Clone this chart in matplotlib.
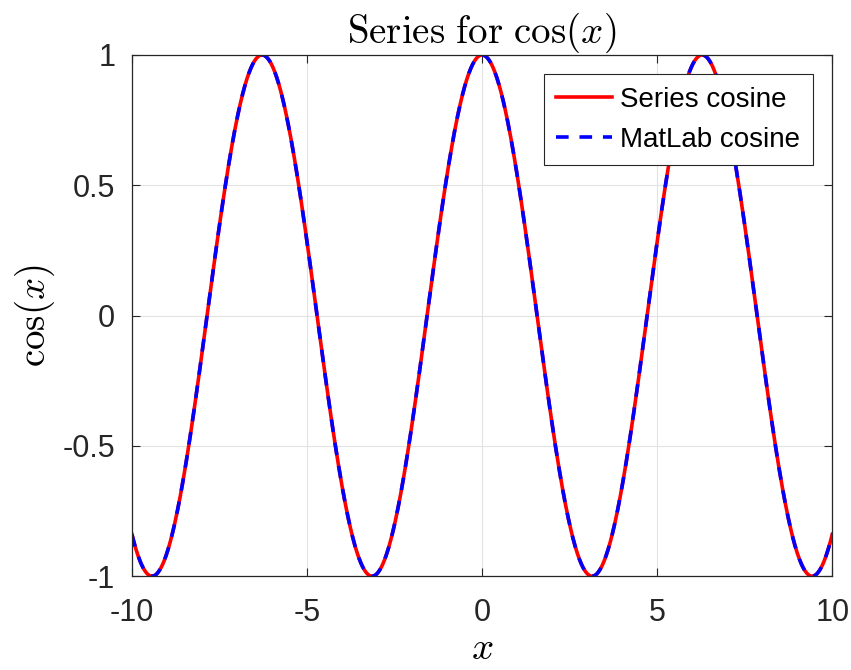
import numpy as np
from math import factorial
from matplotlib import pyplot as plt

# x range and number of series terms
x = np.linspace(-10, 10, 1001)
n_terms = 40
x_ticks = [-10, -5, 0, 5, 10]
y_ticks = [-1, -0.5, 0, 0.5, 1]
y_tick_labels = ['-1', '-0.5', '0', '0.5', '1']
x_tick_labels = ['-10', '-5', '0', '5', '10']

# Taylor series for cos(x)
series_cos = np.zeros_like(x)
for k in range(n_terms):
    series_cos += (-1) ** k * x ** (2 * k) / factorial(2 * k)
matlab_cos = np.cos(x)

plt.rcParams['font.family'] = ['Liberation Sans', 'DejaVu Sans']
plt.rcParams['mathtext.fontset'] = 'cm'

fig = plt.figure(figsize=(8.51, 6.70), dpi=100)
ax = fig.add_axes([0.155, 0.140, 0.823, 0.778])

ax.plot(x, series_cos, color='red', lw=2.6, label='Series cosine')
ax.plot(x, matlab_cos, color='blue', lw=2.6, ls=(0, (3.5, 3)), label='MatLab cosine')

ax.set_xlim(-10, 10)
ax.set_ylim(-1, 1)
ax.set_xticks(x_ticks)
ax.set_xticklabels(x_tick_labels)
ax.set_yticks(y_ticks)
ax.set_yticklabels(y_tick_labels)
ax.tick_params(direction='in', top=True, right=True, labelsize=22, colors='#262626',
               length=6, width=0.8)
ax.tick_params(axis='x', pad=16)
ax.tick_params(axis='y', pad=12)
ax.grid(True, color='#e3e3e3', lw=0.8)
ax.set_axisbelow(True)
for s in ax.spines.values():
    s.set_color('#262626')
    s.set_linewidth(0.9)

ax.set_xlabel(r'$x$', fontsize=28, labelpad=2)
ax.set_ylabel(r'$\cos(x)$', fontsize=28, labelpad=4)
ax.set_title(r'$\mathrm{Series\ for\ }\cos(x)$', fontsize=28, pad=9)

leg = ax.legend(loc='upper right', fontsize=20, fancybox=False, edgecolor='#262626',
                framealpha=1, borderpad=0.45, handlelength=2.0, handletextpad=0.3,
                labelspacing=0.5, borderaxespad=0.7)
leg.get_frame().set_linewidth(0.8)

fig.savefig('out.png', dpi=100)
